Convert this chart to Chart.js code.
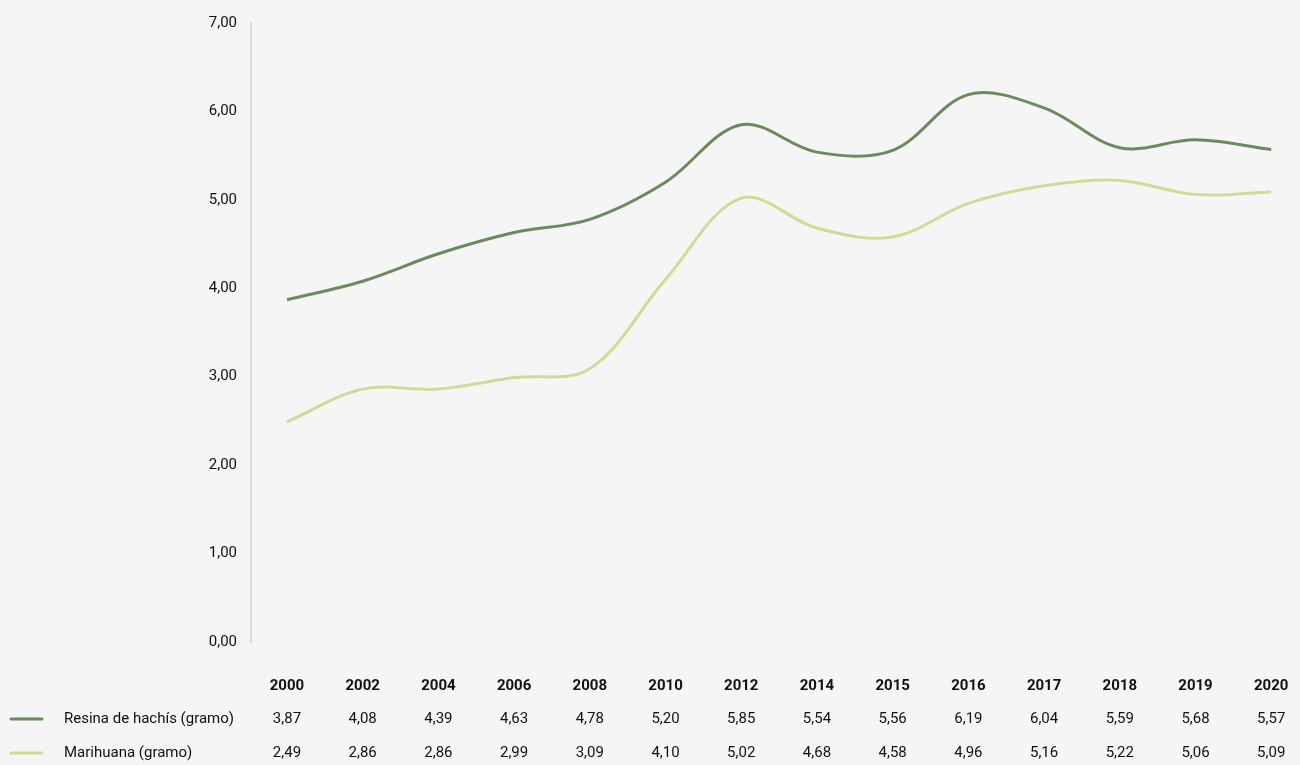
<!DOCTYPE html>
<html>
<head>
<meta charset="utf-8">
<script src="https://cdn.jsdelivr.net/npm/chart.js@4"></script>
<style>
  html, body { margin: 0; padding: 0; background: #f5f5f5; overflow: hidden; }
  #wrap { width: 1300px; height: 765px; }
</style>
</head>
<body>
<div id="wrap"><canvas id="chart" width="1300" height="765"></canvas></div>
<script>
const years = ["2000", "2002", "2004", "2006", "2008", "2010", "2012", "2014", "2015", "2016", "2017", "2018", "2019", "2020"];
const resina = [3.87, 4.08, 4.39, 4.63, 4.78, 5.20, 5.85, 5.54, 5.56, 6.19, 6.04, 5.59, 5.68, 5.57];
const marihuana = [2.49, 2.86, 2.86, 2.99, 3.09, 4.10, 5.02, 4.68, 4.58, 4.96, 5.16, 5.22, 5.06, 5.09];
const seriesNames = ["Resina de hachís (gramo)", "Marihuana (gramo)"];
const yTicks = [0, 1, 2, 3, 4, 5, 6, 7];

const darkGreen = "#6b8a5e";
const lightGreen = "#c8df95";
const fmt = v => v.toFixed(2).replace(".", ",");

const tablePlugin = {
  id: "dataTable",
  afterDraw(chart) {
    const ctx = chart.ctx;
    const x = chart.scales.x;
    ctx.save();
    ctx.fillStyle = "#111";
    ctx.textAlign = "center";
    ctx.textBaseline = "middle";
    ctx.font = "bold 15px Roboto";
    years.forEach((y, i) => ctx.fillText(y, x.getPixelForValue(i), 686));

    const rows = [
      { name: seriesNames[0], data: resina, color: darkGreen, y: 719 },
      { name: seriesNames[1], data: marihuana, color: lightGreen, y: 753 }
    ];
    rows.forEach(r => {
      ctx.strokeStyle = r.color;
      ctx.lineWidth = 3;
      ctx.lineCap = "round";
      ctx.beginPath();
      ctx.moveTo(11, r.y);
      ctx.lineTo(42, r.y);
      ctx.stroke();
      ctx.font = "15px Roboto";
      ctx.textAlign = "left";
      ctx.fillText(r.name, 64, r.y);
      ctx.textAlign = "center";
      r.data.forEach((v, i) => ctx.fillText(fmt(v), x.getPixelForValue(i), r.y));
    });
    ctx.restore();
  }
};

new Chart(document.getElementById("chart"), {
  type: "line",
  data: {
    datasets: [
      {
        label: seriesNames[0],
        data: resina.map((v, i) => ({ x: i, y: v })),
        borderColor: darkGreen,
        borderWidth: 3,
        pointRadius: 0,
        tension: 0.35
      },
      {
        label: seriesNames[1],
        data: marihuana.map((v, i) => ({ x: i, y: v })),
        borderColor: lightGreen,
        borderWidth: 3,
        pointRadius: 0,
        tension: 0.35
      }
    ]
  },
  options: {
    responsive: false,
    animation: false,
    layout: { padding: { top: 19, bottom: 123, left: 0, right: 0 } },
    plugins: { legend: { display: false }, tooltip: { enabled: false } },
    scales: {
      x: {
        type: "linear",
        display: false,
        min: -0.475,
        max: 13.38
      },
      y: {
        min: 0,
        max: 7,
        afterFit(scale) { scale.width = 251; },
        afterBuildTicks(scale) { scale.ticks = yTicks.map(v => ({ value: v })); },
        grid: { display: false, drawTicks: false },
        border: { display: true, color: "#d9d9d9", width: 2 },
        ticks: {
          padding: 14,
          color: "#111",
          font: { family: "Roboto", size: 15 },
          callback: v => fmt(v)
        }
      }
    }
  },
  plugins: [tablePlugin]
});
</script>
</body>
</html>
